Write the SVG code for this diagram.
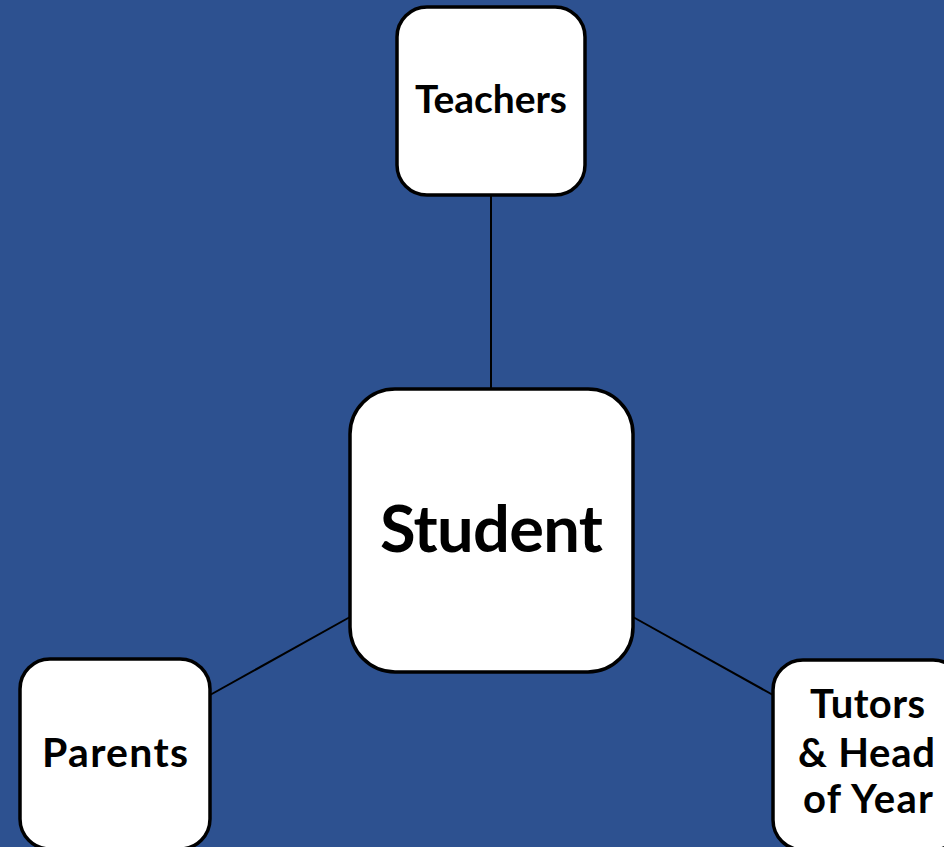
<svg xmlns="http://www.w3.org/2000/svg" width="944" height="847" viewBox="0 0 944 847">
<style>
.box{fill:#ffffff;stroke:#000000;stroke-width:3.5}
.lbl{font-family:Lato,"Open Sans","Liberation Sans",sans-serif;font-weight:bold;fill:#000000;text-anchor:middle}
.sm{font-size:39px}
.conn{stroke:#000000;stroke-width:2;fill:none}
</style>
<rect x="0" y="0" width="944" height="847" fill="#2D5190"/>
<g id="connectors">
<line class="conn" x1="491" y1="195" x2="491" y2="389"/>
<line class="conn" x1="350" y1="617" x2="210" y2="695"/>
<line class="conn" x1="633" y1="617" x2="773" y2="695"/>
</g>
<g id="teachers">
<rect class="box" x="397" y="7" width="188" height="188" rx="30"/>
<text class="lbl sm" x="491" y="113" textLength="152" lengthAdjust="spacing">Teachers</text>
</g>
<g id="student">
<rect class="box" x="350" y="389" width="283" height="283" rx="45"/>
<text class="lbl" x="491.5" y="552" font-size="65" textLength="223" lengthAdjust="spacing">Student</text>
</g>
<g id="parents">
<rect class="box" x="20" y="659" width="190" height="190" rx="30"/>
<text class="lbl" x="115" y="767" font-size="41" textLength="146" lengthAdjust="spacing">Parents</text>
</g>
<g id="tutors">
<rect class="box" x="773" y="660" width="190" height="190" rx="30"/>
<text class="lbl" x="867.5" y="718" font-size="40" textLength="115" lengthAdjust="spacing">Tutors</text>
<text class="lbl" x="866.5" y="767" font-size="40" textLength="137" lengthAdjust="spacing">&amp; Head</text>
<text class="lbl" x="868" y="813" font-size="40" textLength="130" lengthAdjust="spacing">of Year</text>
</g>
</svg>
